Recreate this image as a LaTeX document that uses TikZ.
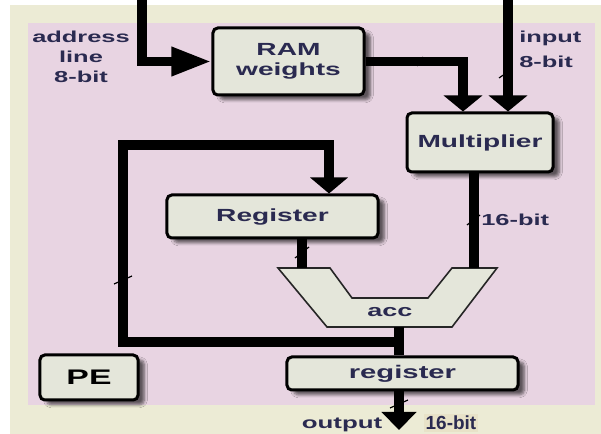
\documentclass[tikz,border=0pt]{standalone}
\usepackage{fontspec}
\setmainfont{Liberation Sans}[FakeStretch=1.6]
\newfontfamily\plainsans{Liberation Sans}
\usetikzlibrary{arrows.meta,calc,shadows.blur}
\definecolor{pagebg}{RGB}{236,235,213}
\definecolor{pebg}{RGB}{232,212,226}
\definecolor{boxbg}{RGB}{228,230,218}
\definecolor{ink}{RGB}{42,42,80}
\definecolor{tagbg}{RGB}{232,226,200}

\begin{document}
\begin{tikzpicture}[x=0.25mm, y=-0.25mm,
    block/.style={draw=black, line width=0.75mm, rounded corners=1.2mm, fill=boxbg, text=ink,
      font=\bfseries\fontsize{12.5}{14.2}\selectfont,
      blur shadow={shadow xshift=1.6mm, shadow yshift=-1.2mm, shadow opacity=60, shadow blur steps=5}},
    wire/.style={line width=2.3mm},
    lbl/.style={text=ink, inner sep=0pt, font=\bfseries\fontsize{11.3}{14.2}\selectfont},
    busmark/.style={line width=0.3mm}]
  \useasboundingbox (0,0) rectangle (601,434);
  % background
  \fill[white] (0,0) rectangle (601,434);
  \fill[pagebg] (10,5) rectangle (601,434);
  \fill[pebg] (28,23) rectangle (595,405);

  % blocks
  \node[block, minimum width=37.75mm, minimum height=16.75mm, align=center] (ram) at (288.5,61.5) {RAM\\weights};
  \node[block, minimum width=36.5mm, minimum height=14.75mm] (mult) at (480,142.5) {Multiplier};
  \node[block, minimum width=52.75mm, minimum height=10.75mm] (regA) at (272.5,216.5) {Register};
  \node[block, minimum width=57.75mm, minimum height=8.25mm, inner sep=0pt,
    font=\bfseries\fontsize{13}{14}\selectfont] (regB) at (402.5,373.5) {register};
  \node[block, minimum width=24.5mm, minimum height=11.25mm, text=black,
    font=\bfseries\fontsize{15}{16}\selectfont] (pe) at (89,377.5) {PE};

  % accumulator
  \filldraw[fill=boxbg, draw=black!85, line width=0.4mm] (278,268) -- (330,268) -- (352,298) -- (428,298)
    -- (452,268) -- (497,268) -- (452,327) -- (327,327) -- cycle;
  \node[lbl, font=\bfseries\fontsize{12}{14}\selectfont] (acc) at (390,312) {acc};

  \coordinate (addrin) at (142,0);
  \coordinate (inpin) at (508,0);
  \coordinate (accL) at (302,268);
  \coordinate (accR) at (474,268);
  \coordinate (accO) at (399,327);
  \coordinate (fb) at (399,342);
  \coordinate (loop) at (123,145);
  \coordinate (out) at (399,430);

  % wires
  \draw[wire, -{Triangle[length=10mm, width=6.75mm]}] (addrin) |- (ram.west);
  \draw[wire, -{Triangle[length=4mm, width=9.5mm]}] (ram.east) -| ($(mult.north)+(-17,0)$);
  \draw[wire, -{Triangle[length=4mm, width=9.5mm]}] (inpin) -- (inpin |- mult.north);
  \draw[wire] (mult.south -| accR) -- (accR);
  \draw[wire] (regA.south -| accL) -- (accL);
  \draw[wire] (accO) -- (accO |- regB.north);
  \draw[wire, -{Triangle[length=4mm, width=9.25mm]}] (fb) -| (loop) -| ($(regA.north)+(56.5,0)$);
  \draw[wire, -{Triangle[length=4.5mm, width=8.5mm]}] (regB.south -| accO) -- (out);

  % bus width marks
  \draw[busmark] (417,66) -- (423,57);
  \draw[busmark] (499,78) -- (512,69);
  \draw[busmark] (467,225) -- (480,215);
  \draw[busmark] (295,258) -- (309,247);
  \draw[busmark] (114,284) -- (132,276);
  \draw[busmark] (390,408) -- (408,400);

  % labels
  \node[lbl, align=center] (addrlbl) at (81,57) {address\\line\\8-bit};
  \node[lbl, align=left, anchor=west, font=\bfseries\fontsize{11.3}{17.7}\selectfont] (inplbl) at (519,49.5) {input\\8-bit};
  \node[lbl, anchor=west] (multbits) at (481,220) {16-bit};
  \node[lbl, font=\bfseries\fontsize{11.5}{14}\selectfont] (outlbl) at (342,425) {output};
  \node[lbl, fill=tagbg, inner sep=1.5pt, font=\plainsans\bfseries\fontsize{13.5}{14}\selectfont] (outbits) at (451,423) {16-bit};
\end{tikzpicture}
\end{document}
